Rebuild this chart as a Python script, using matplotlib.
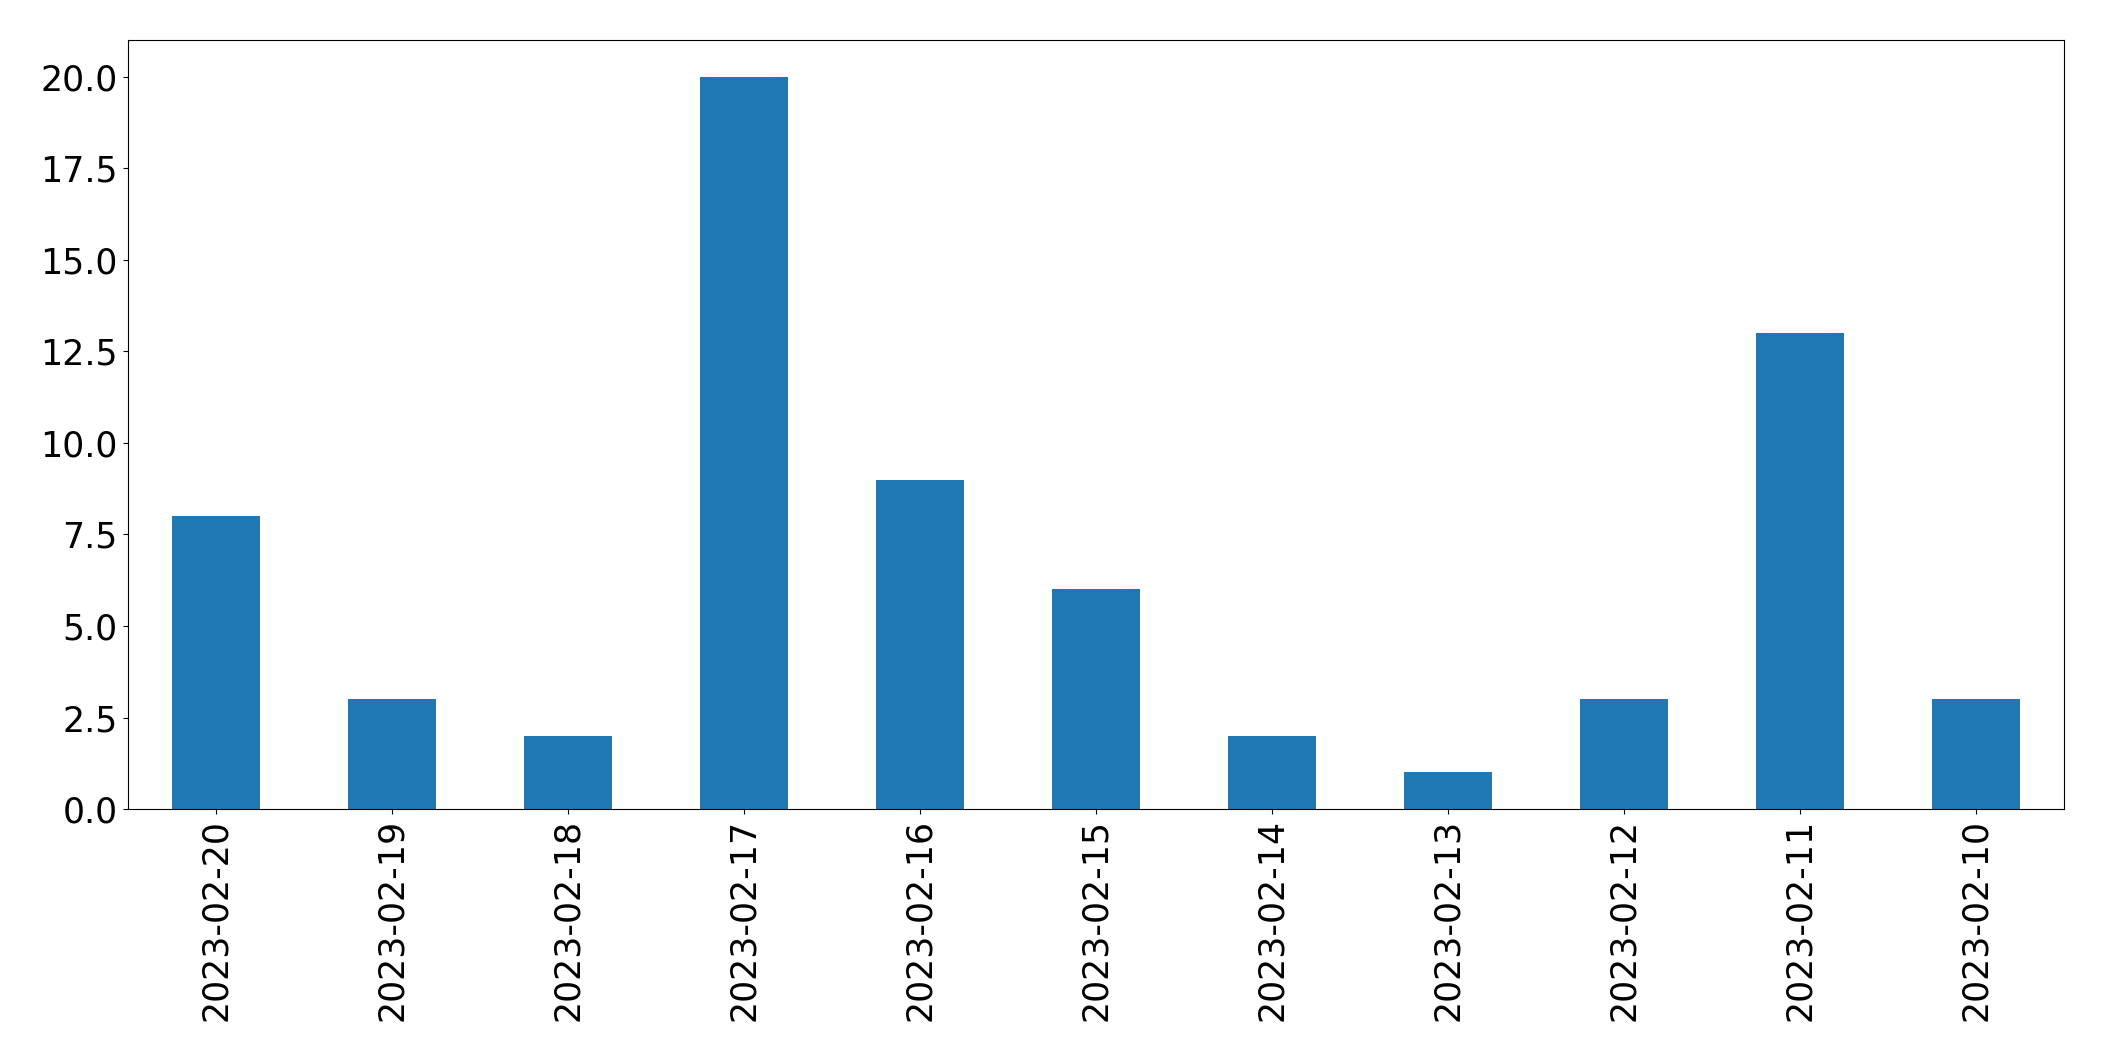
import pandas as pd
import matplotlib
matplotlib.use("Agg")
import matplotlib.pyplot as plt

dates = ["2023-02-20", "2023-02-19", "2023-02-18", "2023-02-17", "2023-02-16",
         "2023-02-15", "2023-02-14", "2023-02-13", "2023-02-12", "2023-02-11",
         "2023-02-10"]
counts = [8, 3, 2, 20, 9, 6, 2, 1, 3, 13, 3]

s = pd.Series(counts, index=dates)

plt.rcParams["font.size"] = 25
fig = plt.figure(figsize=(21.04, 10.61), dpi=100)
ax = fig.add_axes([0.0606, 0.2375, 0.9204, 0.7245])
s.plot(kind="bar", ax=ax, color="#1f77b4", rot=90, linewidth=0)
ax.tick_params(labelsize=25)

fig.savefig("out.png", dpi=100)
